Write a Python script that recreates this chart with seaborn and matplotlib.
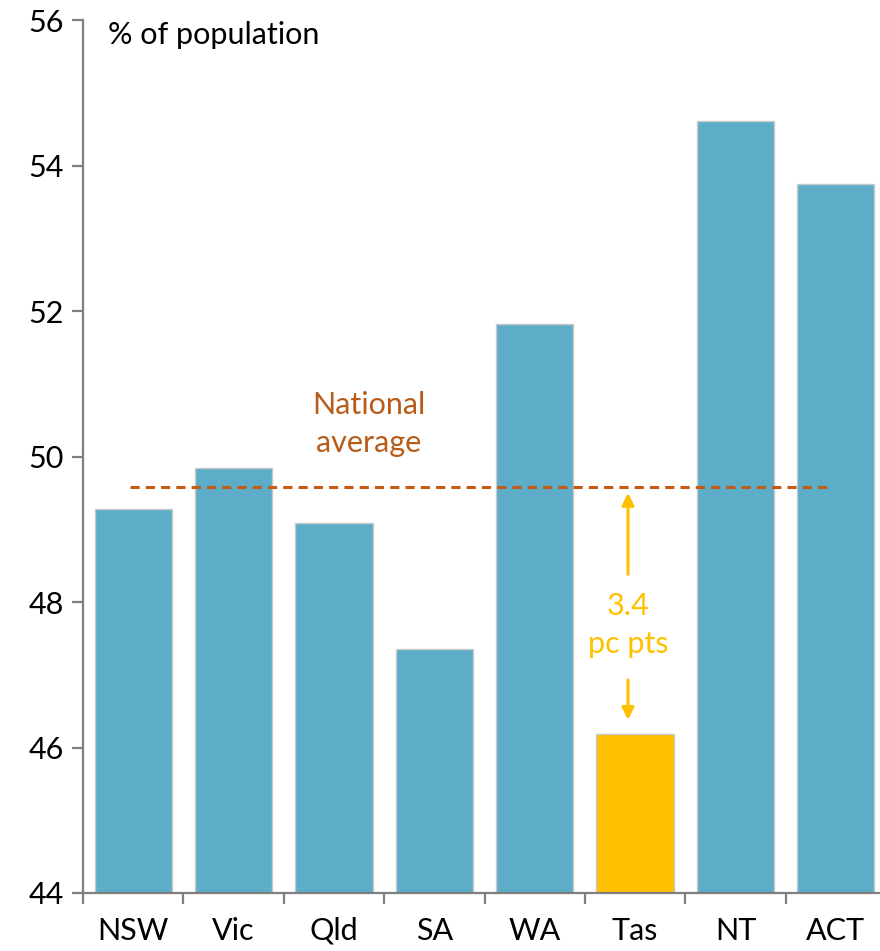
import matplotlib
matplotlib.use("Agg")
import matplotlib.pyplot as plt
import seaborn as sns
import pandas as pd

# Share of population by state/territory (%)
states = ["NSW", "Vic", "Qld", "SA", "WA", "Tas", "NT", "ACT"]
shares = [49.28, 49.84, 49.08, 47.36, 51.82, 46.18, 54.61, 53.74]
national_average = 49.58
gap_label = "3.4\npc pts"
y_ticks = [44, 46, 48, 50, 52, 54, 56]

BLUE = "#5DADC9"
GOLD = "#FFC000"
RUST = "#C55A11"
AXIS = "#7F7F7F"

sns.set_theme(style="white")
plt.rcParams["font.family"] = ["Lato", "DejaVu Sans"]

df = pd.DataFrame({"state": states, "share": shares})
palette = {s: (GOLD if s == "Tas" else BLUE) for s in states}

fig = plt.figure(figsize=(8.8, 9.51), dpi=100)
ax = fig.add_axes([83 / 880, 58 / 951, 803 / 880, 873 / 951])

sns.barplot(data=df, x="state", y="share", hue="state", palette=palette,
            legend=False, width=0.77, edgecolor="#C9C9C9", linewidth=1.0,
            saturation=1, ax=ax)

ax.set_ylim(44, 56)
ax.set_xlim(-0.5, 7.5)
ax.set_yticks(y_ticks)
ax.set_xlabel("")
ax.set_ylabel("")

# axes styling
for side in ["top", "right"]:
    ax.spines[side].set_visible(False)
for side in ["left", "bottom"]:
    ax.spines[side].set_color(AXIS)
    ax.spines[side].set_linewidth(1.6)

ax.tick_params(axis="y", which="major", direction="out", length=8, width=1.6,
               color=AXIS, labelsize=22, labelcolor="black", pad=6, left=True)
ax.tick_params(axis="x", which="major", length=0, labelsize=22,
               labelcolor="black", pad=17)
ax.set_xticks([i + 0.5 for i in range(-1, len(states))], minor=True)
ax.tick_params(axis="x", which="minor", direction="out", length=8, width=1.6,
               color=AXIS, bottom=True)

ax.text(-0.25, 55.8, "% of population", fontsize=22, ha="left", va="center",
        color="black")

# national average reference line
ax.hlines(national_average, -0.03, 6.97, colors=RUST, linestyles=(0, (3, 2)),
          linewidth=2.2, zorder=5)
ax.text(2.35, 50.45, "National\naverage", color="#B85C1A", fontsize=22,
        ha="center", va="center", linespacing=1.45)

# gap annotation for Tasmania
tas_x = states.index("Tas") - 0.07
ax.annotate("", xy=(tas_x, national_average - 0.08), xytext=(tas_x, 48.38),
            arrowprops=dict(arrowstyle="-|>", color=GOLD, lw=2.2,
                            mutation_scale=18, shrinkA=0, shrinkB=0))
ax.annotate("", xy=(tas_x, shares[states.index("Tas")] + 0.2),
            xytext=(tas_x, 46.93),
            arrowprops=dict(arrowstyle="-|>", color=GOLD, lw=2.2,
                            mutation_scale=18, shrinkA=0, shrinkB=0))
ax.text(tas_x, 47.68, gap_label, color=GOLD, fontsize=22, ha="center",
        va="center", linespacing=1.45)

fig.savefig("out.png", dpi=100)
